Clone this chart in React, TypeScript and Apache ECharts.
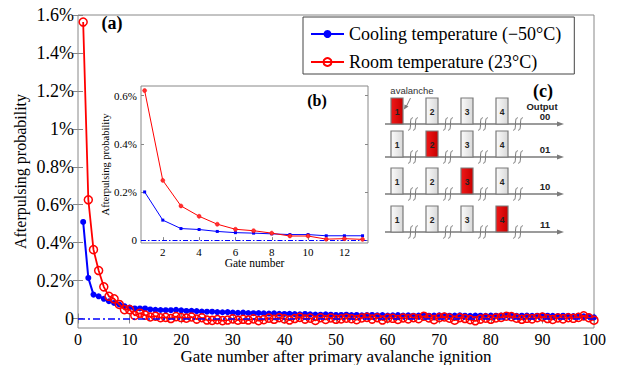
import React, { useEffect, useRef } from 'react';
import * as echarts from 'echarts';

const SERIF = 'Liberation Serif';
const SANS = 'Liberation Sans';

const coolingName = 'Cooling temperature (−50°C)';
const roomName = 'Room temperature (23°C)';

// Main plot (a): gate numbers 1..100, values in %
const gates: number[] = Array.from({ length: 100 }, (_, i) => i + 1);

const coolingMain: number[] = [
  0.509, 0.214, 0.126, 0.117, 0.104, 0.091, 0.082, 0.074, 0.065, 0.058,
  0.053, 0.053, 0.053, 0.048, 0.046, 0.045, 0.044, 0.044, 0.046, 0.043,
  0.040, 0.041, 0.039, 0.037, 0.036, 0.036, 0.034, 0.033, 0.034, 0.031,
  0.030, 0.031, 0.029, 0.028, 0.029, 0.027, 0.026, 0.027, 0.025, 0.024,
  0.025, 0.023, 0.022, 0.024, 0.022, 0.021, 0.020, 0.022, 0.020, 0.019,
  0.019, 0.020, 0.018, 0.019, 0.017, 0.018, 0.019, 0.017, 0.018, 0.016,
  0.017, 0.018, 0.016, 0.017, 0.015, 0.016, 0.017, 0.015, 0.016, 0.017,
  0.016, 0.015, 0.016, 0.017, 0.015, 0.014, 0.016, 0.015, 0.014, 0.016,
  0.015, 0.016, 0.017, 0.015, 0.014, 0.015, 0.016, 0.014, 0.015, 0.016,
  0.015, 0.014, 0.013, 0.015, 0.014, 0.013, 0.014, 0.012, 0.011, 0.006,
];

const roomMain: number[] = [
  1.563, 0.626, 0.363, 0.253, 0.167, 0.117, 0.104, 0.074, 0.047, 0.047,
  0.016, 0.028, 0.018, 0.008, 0.012, 0.004, 0.006, 0.000, 0.010, 0.005,
  0.002, 0.008, -0.003, 0.004, -0.008, -0.010, -0.006, -0.011, -0.008, -0.002,
  -0.009, -0.004, -0.008, -0.002, -0.011, -0.006, 0.002, -0.004, 0.004, -0.002,
  -0.008, 0.000, 0.006, -0.003, 0.002, -0.010, 0.004, -0.005, 0.003, -0.004,
  -0.002, 0.002, -0.001, -0.006, 0.003, 0.006, -0.003, 0.004, -0.008, 0.002,
  0.001, -0.005, 0.003, -0.002, 0.004, -0.001, 0.012, 0.003, -0.006, 0.005,
  0.008, 0.002, -0.009, 0.004, 0.000, -0.006, -0.012, -0.003, 0.002, -0.004,
  0.003, 0.006, 0.012, 0.010, 0.002, -0.004, 0.001, -0.002, 0.004, 0.008,
  0.000, -0.005, 0.003, -0.002, 0.004, 0.001, 0.006, 0.014, 0.004, -0.009,
];

const mainXTicks = [0, 10, 20, 30, 40, 50, 60, 70, 80, 90, 100];
const mainYTicks = [0, 0.2, 0.4, 0.6, 0.8, 1.0, 1.2, 1.4, 1.6];

// Inset (b)
const insetGates: number[] = [1, 2, 3, 4, 5, 6, 7, 8, 9, 10, 11, 12, 13];
const coolingInset: number[] = [0.200, 0.083, 0.048, 0.044, 0.036, 0.031, 0.029, 0.026, 0.023, 0.023, 0.018, 0.018, 0.018];
const roomInset: number[] = [0.621, 0.248, 0.142, 0.099, 0.066, 0.045, 0.039, 0.029, 0.017, 0.017, 0.004, 0.006, 0.003];
const insetXTicks = [2, 4, 6, 8, 10, 12];
const insetYTicks = [0, 0.2, 0.4, 0.6];

// Diagram (c)
const gateLabels = ['1', '2', '3', '4'];
const outputCodes = ['00', '01', '10', '11'];

const pctFmt = (v: number) => (Math.abs(v) < 1e-9 ? '0' : `${Math.round(v * 10) / 10}%`);

function buildDiagram(): any[] {
  const els: any[] = [];
  const gray = '#7a7a7a';
  const cols = [391, 426, 461, 496];
  const bases = [124, 157, 194, 232];
  const squig = [413, 448, 483, 518];
  const boxW = 12;
  const boxH = 26;
  const whiteFill = {
    type: 'linear', x: 0, y: 0, x2: 1, y2: 0,
    colorStops: [{ offset: 0, color: '#fbfbfb' }, { offset: 1, color: '#d9d9d9' }],
  };
  const redFill = {
    type: 'linear', x: 0, y: 0, x2: 1, y2: 0,
    colorStops: [{ offset: 0, color: '#f01818' }, { offset: 1, color: '#c80000' }],
  };
  bases.forEach((b, r) => {
    els.push({ type: 'line', z: 20, shape: { x1: 385, y1: b, x2: 559, y2: b }, style: { stroke: gray, lineWidth: 1.5 } });
    els.push({ type: 'polygon', z: 20, shape: { points: [[557, b - 2.5], [564, b], [557, b + 2.5]] }, style: { fill: gray } });
    cols.forEach((cx, c) => {
      els.push({
        type: 'rect', z: 21,
        shape: { x: cx, y: b - boxH, width: boxW, height: boxH },
        style: { fill: c === r ? redFill : whiteFill, stroke: gray, lineWidth: 1.2 },
      });
      els.push({
        type: 'text', z: 22, x: cx + boxW / 2, y: b - boxH / 2 + 1,
        style: { text: gateLabels[c], font: `bold 8.5px ${SANS}`, fill: '#222', align: 'center', verticalAlign: 'middle' },
      });
    });
    squig.forEach((sx) => {
      [-2.5, 2.5].forEach((dx) => {
        const cx = sx + dx;
        els.push({
          type: 'bezierCurve', z: 22,
          shape: { x1: cx - 2.5, y1: b + 6, cpx1: cx + 2, cpy1: b + 8, cpx2: cx - 2, cpy2: b - 8, x2: cx + 2.5, y2: b - 6 },
          style: { stroke: gray, lineWidth: 1, fill: 'none' },
        });
      });
    });
    els.push({
      type: 'text', z: 22, x: 545, y: b - 8,
      style: { text: outputCodes[r], font: `bold 9.5px ${SANS}`, fill: '#222', align: 'center', verticalAlign: 'middle' },
    });
  });
  els.push({
    type: 'text', z: 22, x: 542, y: 106,
    style: { text: 'Output', font: `bold 9.5px ${SANS}`, fill: '#222', align: 'center', verticalAlign: 'middle' },
  });
  els.push({
    type: 'text', z: 22, x: 412, y: 90,
    style: { text: 'avalanche', font: `9.5px ${SANS}`, fill: '#333', align: 'center', verticalAlign: 'middle' },
  });
  els.push({ type: 'line', z: 22, shape: { x1: 410.5, y1: 98, x2: 406.5, y2: 106 }, style: { stroke: gray, lineWidth: 1 } });
  els.push({ type: 'polygon', z: 22, shape: { points: [[404, 109.5], [404.5, 104.5], [408.5, 106.5]] }, style: { fill: gray } });
  return els;
}

export default function App() {
  const ref = useRef<HTMLDivElement>(null);
  useEffect(() => {
    if (!ref.current) return;
    const chart = echarts.init(ref.current, null, { renderer: 'svg' });
    const tickStyle = { color: '#888', width: 1 };
    const option: any = {
      animation: false,
      backgroundColor: '#fff',
      textStyle: { fontFamily: SERIF },
      legend: {
        data: [coolingName, roomName],
        orient: 'vertical',
        left: 303,
        top: 17,
        padding: [8, 13, 3, 7],
        itemWidth: 33,
        itemHeight: 10,
        itemGap: 10,
        borderColor: '#444',
        borderWidth: 1,
        backgroundColor: '#fff',
        selectedMode: false,
        textStyle: { fontSize: 18, color: '#000', fontFamily: SERIF },
      },
      grid: [
        { left: 78, top: 15, width: 516, height: 313, show: true, borderColor: '#888', borderWidth: 1, backgroundColor: 'transparent', containLabel: false, outerBoundsMode: 'none' },
        { left: 141, top: 86, width: 227, height: 157, show: true, borderColor: '#888', borderWidth: 1, backgroundColor: '#fff', containLabel: false, outerBoundsMode: 'none' },
      ],
      xAxis: [
        {
          gridIndex: 0, type: 'value', min: 0, max: 100, interval: 10, position: 'bottom',
          axisLine: { show: false },
          axisTick: { inside: true, length: 5, lineStyle: tickStyle, customValues: mainXTicks },
          axisLabel: { customValues: mainXTicks, fontSize: 16, color: '#000', margin: 3, fontFamily: SERIF },
          splitLine: { show: false },
          name: 'Gate number after primary avalanche ignition',
          nameLocation: 'middle', nameGap: 20, nameMoveOverlap: false,
          nameTextStyle: { fontSize: 17, color: '#000', fontFamily: SERIF },
        },
        {
          gridIndex: 0, type: 'value', min: 0, max: 100, interval: 10, position: 'top',
          axisLine: { show: false },
          axisTick: { inside: true, length: 5, lineStyle: tickStyle, customValues: mainXTicks },
          axisLabel: { show: false }, splitLine: { show: false },
        },
        {
          gridIndex: 1, type: 'value', min: 0.8, max: 13.3, position: 'bottom',
          axisLine: { show: false },
          axisTick: { inside: true, length: 3, lineStyle: tickStyle, customValues: insetXTicks },
          axisLabel: { customValues: insetXTicks, fontSize: 11, color: '#000', margin: 3, fontFamily: SERIF },
          splitLine: { show: false },
          name: 'Gate number', nameLocation: 'middle', nameGap: 14, nameMoveOverlap: false,
          nameTextStyle: { fontSize: 11.5, color: '#000', fontFamily: SERIF },
        },
      ],
      yAxis: [
        {
          gridIndex: 0, type: 'value', min: -0.05, max: 1.6, position: 'left',
          axisLine: { show: false },
          axisTick: { inside: true, length: 5, lineStyle: tickStyle, customValues: mainYTicks },
          axisLabel: { customValues: mainYTicks, formatter: pctFmt, fontSize: 18, color: '#000', margin: 4, fontFamily: SERIF },
          splitLine: { show: false },
          name: 'Afterpulsing probability', nameLocation: 'middle', nameGap: 50, nameMoveOverlap: false,
          nameTextStyle: { fontSize: 16, color: '#000', fontFamily: SERIF },
        },
        {
          gridIndex: 0, type: 'value', min: -0.05, max: 1.6, position: 'right',
          axisLine: { show: false },
          axisTick: { inside: true, length: 5, lineStyle: tickStyle, customValues: mainYTicks },
          axisLabel: { show: false }, splitLine: { show: false },
        },
        {
          gridIndex: 1, type: 'value', min: -0.012, max: 0.64, position: 'left',
          axisLine: { show: false },
          axisTick: { inside: true, length: 3, lineStyle: tickStyle, customValues: insetYTicks },
          axisLabel: { customValues: insetYTicks, formatter: pctFmt, fontSize: 11, color: '#000', margin: 4, fontFamily: SERIF },
          splitLine: { show: false },
          name: 'Afterpulsing probability', nameLocation: 'middle', nameGap: 30, nameMoveOverlap: false,
          nameTextStyle: { fontSize: 10.5, color: '#000', fontFamily: SERIF },
        },
        {
          gridIndex: 1, type: 'value', min: -0.012, max: 0.64, position: 'right',
          axisLine: { show: false },
          axisTick: { inside: true, length: 3, lineStyle: tickStyle, customValues: insetYTicks },
          axisLabel: { show: false }, splitLine: { show: false },
        },
      ],
      series: [
        {
          name: coolingName, type: 'line', xAxisIndex: 0, yAxisIndex: 0, z: 2,
          data: gates.map((g, i) => [g, coolingMain[i]]),
          symbol: 'circle', symbolSize: 6,
          lineStyle: { color: '#0000ff', width: 2 },
          itemStyle: { color: '#0000ff' },
          markLine: {
            silent: true, symbol: 'none', label: { show: false },
            lineStyle: { color: '#0000ff', type: [7, 3, 2, 3], width: 1.5 },
            data: [{ yAxis: 0 }],
          },
        },
        {
          name: roomName, type: 'line', xAxisIndex: 0, yAxisIndex: 0, z: 3,
          data: gates.map((g, i) => [g, roomMain[i]]),
          symbol: 'circle', symbolSize: 8,
          lineStyle: { color: '#ff0000', width: 1.8 },
          itemStyle: { color: 'rgba(255,255,255,0)', borderColor: '#ff0000', borderWidth: 1.5 },
        },
        {
          name: 'inset cooling', type: 'line', xAxisIndex: 2, yAxisIndex: 2, z: 4,
          data: insetGates.map((g, i) => [g, coolingInset[i]]),
          symbol: 'rect', symbolSize: 3,
          lineStyle: { color: '#0000ff', width: 1 },
          itemStyle: { color: '#0000ff' },
          markLine: {
            silent: true, symbol: 'none', label: { show: false },
            lineStyle: { color: '#0000ff', type: [5, 2, 1.5, 2], width: 1.2 },
            data: [{ yAxis: 0 }],
          },
        },
        {
          name: 'inset room', type: 'line', xAxisIndex: 2, yAxisIndex: 2, z: 5,
          data: insetGates.map((g, i) => [g, roomInset[i]]),
          symbol: 'circle', symbolSize: 4,
          lineStyle: { color: '#ff0000', width: 1 },
          itemStyle: { color: '#ff3030', borderColor: '#ff0000', borderWidth: 0.5 },
        },
      ],
      graphic: {
        elements: [
          { type: 'text', z: 30, x: 112, y: 23, style: { text: '(a)', font: `bold 18px ${SERIF}`, fill: '#000', align: 'center', verticalAlign: 'middle' } },
          { type: 'text', z: 30, x: 317, y: 100, style: { text: '(b)', font: `bold 16px ${SERIF}`, fill: '#000', align: 'center', verticalAlign: 'middle' } },
          { type: 'text', z: 30, x: 543, y: 91, style: { text: '(c)', font: `bold 18px ${SERIF}`, fill: '#000', align: 'center', verticalAlign: 'middle' } },
          ...buildDiagram(),
        ],
      },
    };
    chart.setOption(option);
    return () => chart.dispose();
  }, []);
  return <div ref={ref} style={{ position: 'absolute', left: 0, top: 0, width: 618, height: 365 }} />;
}
